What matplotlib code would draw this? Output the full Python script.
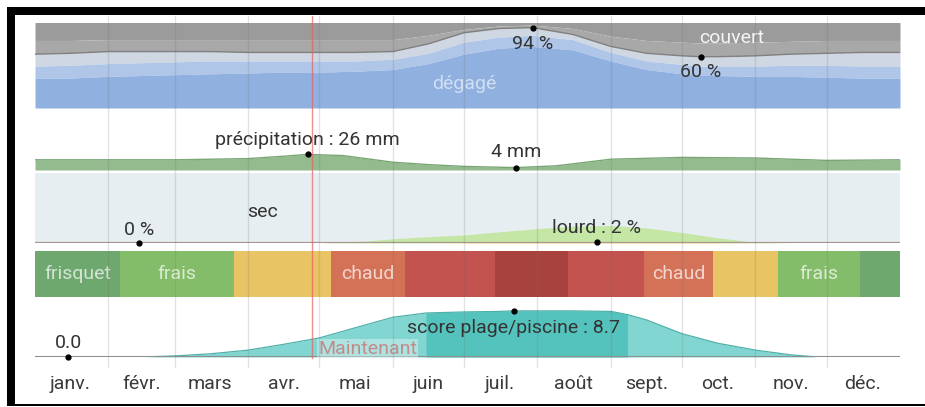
import matplotlib
matplotlib.use('Agg')
import matplotlib.pyplot as plt
from matplotlib.patches import Rectangle

plt.rcParams['font.family'] = ['Roboto', 'DejaVu Sans']

# ---------------- data ----------------
month_labels = ['janv.', 'févr.', 'mars', 'avr.', 'mai', 'juin', 'juil.', 'août',
                'sept.', 'oct.', 'nov.', 'déc.']
month_starts = [0, 31, 59, 90, 120, 151, 181, 212, 243, 273, 304, 334, 365]
month_mids = [15, 45, 74, 105, 135, 166, 196, 227, 258, 288, 319, 349]
now_day = 117

# cloud cover (cumulative % of time, from the bottom)
cloud_days = [0, 15, 31, 45, 59, 74, 90, 105, 120, 135, 151, 166, 181, 196, 210,
              227, 243, 258, 273, 281, 288, 304, 319, 334, 349, 365]
clear_top = [35, 35, 37, 38, 39, 40, 41, 42, 42, 43, 45, 52, 63, 70, 72,
             68, 55, 45, 40, 38, 38, 37, 37, 36, 35, 35]
mostly_clear_top = [49, 50, 52, 53, 54, 55, 55, 55, 55, 55, 57, 64, 77, 83, 85,
                    80, 65, 55, 51, 49, 49, 49, 50, 50, 49, 49]
partly_cloudy_top = [63, 64, 66, 66, 66, 66, 65, 65, 65, 65, 66, 75, 88, 93, 94,
                     86, 72, 64, 61, 60, 60, 61, 63, 64, 65, 65]
mostly_cloudy_top = [79, 79, 80, 80, 80, 80, 80, 80, 80, 80, 80, 85, 92, 96, 97,
                     93, 84, 79, 77, 76, 76, 77, 78, 79, 79, 79]
cloud_max = (210, 94)
cloud_min = (281, 60)

# precipitation (mm, 31-day rolling)
precip_days = [0, 31, 59, 90, 105, 115, 130, 151, 166, 181, 203, 220, 243, 273,
               304, 334, 365]
precip_mm = [17, 17, 17, 19, 23, 26, 24, 13, 9, 6, 4, 7, 18, 21, 20, 16, 17]
precip_max = (115, 26)
precip_min = (203, 4)

# humidity comfort (%)
hum_days = [0, 120, 140, 151, 166, 181, 196, 212, 227, 243, 258, 273, 288, 304, 320, 365]
muggy_pct = [0, 0, 0, 0, 0, 0.5, 1, 1.5, 2, 2, 1.5, 1, 0.5, 0, 0, 0]
comfort_pct = [0, 0, 3, 6, 9, 11, 15, 19, 22, 23, 20, 14, 7, 1, 0, 0]
dry_min = (44, 0)
muggy_label = (237, 2)

# temperature categories
temp_bounds = [0, 36, 84, 125, 156, 194, 225, 257, 286, 313.5, 348, 365]
temp_names = ['frisquet', 'frais', '', 'chaud', '', '', '', 'chaud', '', 'frais', '']
temp_colors = ['#6ea86f', '#84bd69', '#e8c464', '#d47257', '#c2534f', '#a8423e',
               '#c2534f', '#d47257', '#e8c464', '#84bd69', '#6ea86f']

# beach / pool score
beach_days = [0, 45, 59, 74, 90, 105, 120, 135, 151, 165, 181, 196, 202, 227, 243,
              250, 258, 273, 288, 304, 319, 330, 365]
beach_score = [0, 0, 0.2, 0.6, 1.3, 2.4, 3.6, 5.5, 7.5, 8.3, 8.5, 8.6, 8.7, 8.7, 8.6,
               8.0, 7.0, 4.4, 2.6, 1.3, 0.4, 0, 0]
best_start, best_end = 165, 250
beach_min = (14, 0.0)
beach_max = (202, 8.7)

# ---------------- layout ----------------
W, H = 925, 407
fig = plt.figure(figsize=(W / 100, H / 100), dpi=100)


def box(x0, y0, x1, y1):
    return [x0 / W, 1 - y1 / H, (x1 - x0) / W, (y1 - y0) / H]


X0, X1 = 35, 900
TXT = '#333333'
FS = 14


def clean(ax, ylim):
    ax.set_xlim(0, 365)
    ax.set_ylim(*ylim)
    ax.axis('off')


def dot_label(ax, xy, text, dy):
    ax.plot([xy[0]], [xy[1]], 'o', color='black', ms=3.5, zorder=6, clip_on=False)
    ax.annotate(text, xy=xy, xytext=(0, dy), textcoords='offset pixels',
                ha='center', va='center', fontsize=FS, color=TXT, zorder=7,
                annotation_clip=False)


# cloud cover
axc = fig.add_axes(box(X0, 22.5, X1, 108))
clean(axc, (0, 100))
axc.fill_between(cloud_days, mostly_cloudy_top, 100, color='#9b9b9b', lw=0)
axc.fill_between(cloud_days, partly_cloudy_top, mostly_cloudy_top, color='#a8a8a8', lw=0)
axc.fill_between(cloud_days, mostly_clear_top, partly_cloudy_top, color='#cfd7e3', lw=0)
axc.fill_between(cloud_days, clear_top, mostly_clear_top, color='#afc6e8', lw=0)
axc.fill_between(cloud_days, 0, clear_top, color='#90b0e0', lw=0)
axc.plot(cloud_days, partly_cloudy_top, color='#808080', lw=1)
dot_label(axc, cloud_max, '94 %', -16)
dot_label(axc, cloud_min, '60 %', -15)
axc.text(294, 82, 'couvert', ha='center', va='center', fontsize=FS, color='white', alpha=0.9)
axc.text(181, 28, 'dégagé', ha='center', va='center', fontsize=FS, color='white', alpha=0.6)

# precipitation
axp = fig.add_axes(box(X0, 140, X1, 170))
clean(axp, (0, 50))
axp.fill_between(precip_days, 0, precip_mm, color='#93bb8e', lw=0)
axp.plot(precip_days, precip_mm, color='#7aa676', lw=1)
dot_label(axp, precip_max, 'précipitation : 26 mm', 14)
dot_label(axp, precip_min, '4 mm', 16)

# humidity
axh = fig.add_axes(box(X0, 173, X1, 243))
clean(axh, (0, 100))
axh.add_patch(Rectangle((0, 0), 365, 100, color='#e7eef1', lw=0, zorder=0))
top2 = [m + c for m, c in zip(muggy_pct, comfort_pct)]
axh.fill_between(hum_days, muggy_pct, top2, color='#c4e7a6', lw=0, zorder=1)
axh.fill_between(hum_days, 0, muggy_pct, color='#f0c46c', lw=0, zorder=1)
axh.axhline(0, color='#a89494', lw=1.6, zorder=2)
axh.text(96, 44, 'sec', ha='center', va='center', fontsize=FS, color=TXT)
dot_label(axh, dry_min, '0 %', 13)
dot_label(axh, muggy_label, 'lourd : 2 %', 14)

# temperature band
axt = fig.add_axes(box(X0, 251, X1, 297))
clean(axt, (0, 1))
for a, b, name, col in zip(temp_bounds[:-1], temp_bounds[1:], temp_names, temp_colors):
    axt.bar(a, 1, width=b - a, bottom=0, align='edge', color=col, lw=0)
    if name:
        axt.text((a + b) / 2, 0.5, name, ha='center', va='center', fontsize=FS,
                 color='white', alpha=0.7)

# beach score
axb = fig.add_axes(box(X0, 304, X1, 357))
clean(axb, (0, 10))
axb.fill_between(beach_days, 0, beach_score, color='#82d6d2', lw=0)
inside = [best_start <= d <= best_end for d in beach_days]
axb.fill_between(beach_days, 0, beach_score, where=inside, color='#55c3bd', lw=0)
axb.plot(beach_days, beach_score, color='#4fb0aa', lw=0.9)
axb.axhline(0, color='#8f8f8f', lw=1.5)
dot_label(axb, beach_min, '0.0', 14)
dot_label(axb, beach_max, 'score plage/piscine : 8.7', -17)
axb.annotate('Maintenant', xy=(now_day, 0), xytext=(6, 8), textcoords='offset pixels',
             ha='left', va='center', fontsize=FS, color='#c47c7c', alpha=0.85,
             bbox=dict(boxstyle='square,pad=0.05', fc='white', ec='none', alpha=0.35),
             zorder=8)

# overlay: grid, now line, month labels
axo = fig.add_axes(box(X0, 16, X1, 368))
axo.set_zorder(10)
axo.patch.set_visible(False)
axo.set_xlim(0, 365)
axo.set_ylim(0, 1)
for s in axo.spines.values():
    s.set_visible(False)
axo.set_yticks([])
axo.set_xticks(month_mids)
axo.set_xticklabels(month_labels, fontsize=FS, color='#3a3a3a')
axo.tick_params(axis='x', length=0, pad=5)
for d in month_starts[1:-1]:
    axo.axvline(d, color='#707070', lw=1, alpha=0.2)
axo.axvline(now_day, ymin=10 / 352, ymax=1, color='#e86060', lw=1, alpha=0.7)

# black frame
for (x0, y0, x1, y1) in [(7, 7, 925, 15), (7, 7, 15, 406), (7, 404, 925, 406)]:
    fig.patches.append(Rectangle((x0 / W, 1 - y1 / H), (x1 - x0) / W, (y1 - y0) / H,
                                 transform=fig.transFigure, color='black', lw=0))

fig.savefig('out.png', dpi=100)
